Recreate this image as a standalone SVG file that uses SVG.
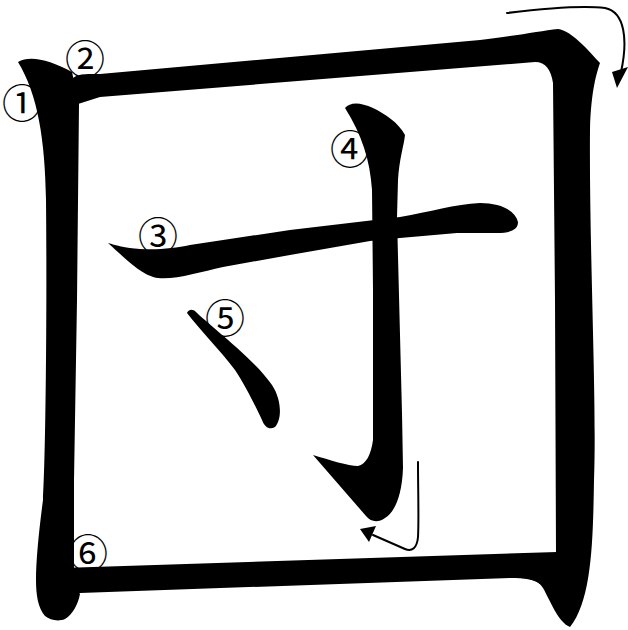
<svg xmlns="http://www.w3.org/2000/svg" width="628" height="630" viewBox="0 0 628 630">
<style>
.st{fill:#000;stroke:none}
.num{font-family:"Noto Sans CJK JP","Noto Sans",sans-serif;font-size:40px;fill:#000;text-anchor:middle}
.arr{fill:none;stroke:#000;stroke-width:2;stroke-linecap:round}
.head{fill:#000}
</style>
<rect width="628" height="630" fill="#fff"/>
<g id="stroke1">
<path class="st" d="M18,62 C30,55 50,60 72,72 L79,104 L77,300 L74,480 L74,585 L80,594 C78,604 73,614 65,619 C58,622 50,620 45,616 C38,608 36,595 36,580 C36,560 39,530 43,500 C46,450 47,300 46,200 C45,140 38,95 18,62 Z"/>
</g>
<g id="stroke2">
<path class="st" d="M70,82 C74,73 86,74 100,74 L480,40 C515,36 540,31 558,29 C572,31 588,50 600,63 C597,72 591,90 590,130 C589,250 597,400 594,480 C593,540 592,600 570,627 C558,622 550,600 543,588 C538,580 530,578 515,578 L520,555 L556,553 L555,300 L553,83 C551,70 546,62 535,62 L100,97 L78,104 Z"/>
</g>
<g id="stroke3">
<path class="st" d="M108,243 C115,245 125,248 140,249 C160,250 175,248 190,245 L290,230 L400,217 C430,212 455,204 480,203 C500,203 515,210 518,222 C518,230 510,233 497,233 L457,233 L400,238 L370,241 L290,255 L223,267 C200,272 175,280 158,278 C145,276 135,268 108,243 Z"/>
</g>
<g id="stroke4">
<path class="st" d="M345,108 C350,102 360,102 373,108 C385,114 398,122 405,135 C404,145 399,160 398,180 L397,217 L402,413 L403,468 C402,495 395,512 385,518 C378,523 371,522 366,516 L313,455 C330,460 348,466 358,466 C366,464 371,455 373,440 L373,290 L372,190 C370,160 362,135 345,108 Z"/>
</g>
<g id="stroke5">
<path class="st" d="M187,313 C189,309 193,309 196,312 C215,330 255,360 272,385 C282,400 282,420 275,427 C270,430 265,428 262,420 C255,405 245,385 235,370 C220,350 200,330 187,313 Z"/>
</g>
<g id="stroke6">
<path class="st" d="M62,568 L557,552 L557,582 L540,584 C533,579 525,578 510,578 L80,593 L62,594 Z"/>
</g>
<g id="labels">
<text class="num" x="22" y="118">①</text>
<text class="num" x="85" y="74">②</text>
<text class="num" x="158" y="251">③</text>
<text class="num" x="350" y="164">④</text>
<text class="num" x="225" y="333">⑤</text>
<text class="num" x="88" y="568">⑥</text>
</g>
<g id="arrows">
<path class="arr" d="M507,13 C540,9 580,5 605,8 C625,12 628,40 621,72"/>
<polygon class="head" points="612,72 628,67 617,88"/>
<path class="arr" d="M418,462 C418,490 419,520 418,537 C417,548 412,552 405,549 L373,535"/>
<polygon class="head" points="360,529 376,526 369,542"/>
</g>
</svg>
